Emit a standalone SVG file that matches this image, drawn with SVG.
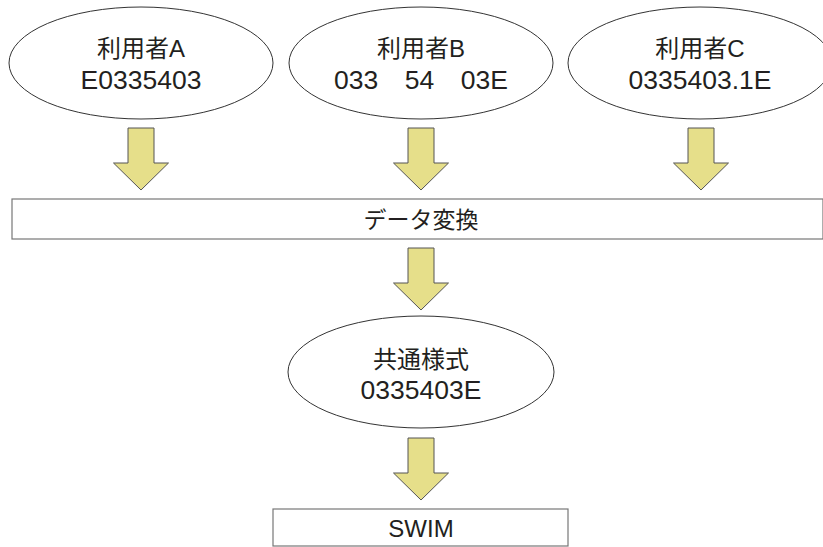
<svg xmlns="http://www.w3.org/2000/svg" width="823" height="547" viewBox="0 0 823 547">
<style>
.node{fill:#fff;stroke:#333;stroke-width:1}
.box{fill:#fff;stroke:#777;stroke-width:1.2}
.t{font-family:"Liberation Sans","Noto Sans CJK JP",sans-serif;font-size:24px;fill:#231f20;text-anchor:middle}
.n{font-size:26.5px}
.arrow{fill:#e6df8a;stroke:#555;stroke-width:1}
</style>
<defs>
<path id="arr" d="M-13,0 H13 V35 H27.5 L0,62 L-27.5,35 H-13 Z"/>
</defs>
<g id="userA">
<ellipse class="node" cx="141" cy="63" rx="132" ry="56"/>
<text class="t" x="141" y="57">利用者A</text>
<text class="t n" x="141" y="89">E0335403</text>
</g>
<g id="userB">
<ellipse class="node" cx="421" cy="63" rx="132" ry="56"/>
<text class="t" x="421" y="57">利用者B</text>
<text class="t n" x="421" y="89" xml:space="preserve">033　54　03E</text>
</g>
<g id="userC">
<ellipse class="node" cx="700" cy="63" rx="132" ry="56"/>
<text class="t" x="700" y="57">利用者C</text>
<text class="t n" x="700" y="89">0335403.1E</text>
</g>
<g id="convert">
<rect class="box" x="12" y="199" width="811" height="40"/>
<text class="t" x="421" y="228" style="font-size:23px">データ変換</text>
</g>
<g id="common">
<ellipse class="node" cx="421" cy="372" rx="133" ry="56"/>
<text class="t" x="421" y="368">共通様式</text>
<text class="t n" x="421" y="399">0335403E</text>
</g>
<g id="swim">
<rect class="box" x="273" y="509" width="295" height="37"/>
<text class="t" x="421" y="537">SWIM</text>
</g>
<g id="connectors">
<use href="#arr" class="arrow" x="141" y="128"/>
<use href="#arr" class="arrow" x="421" y="128"/>
<use href="#arr" class="arrow" x="701" y="128"/>
<use href="#arr" class="arrow" x="421" y="248"/>
<use href="#arr" class="arrow" x="421" y="438"/>
</g>
</svg>
